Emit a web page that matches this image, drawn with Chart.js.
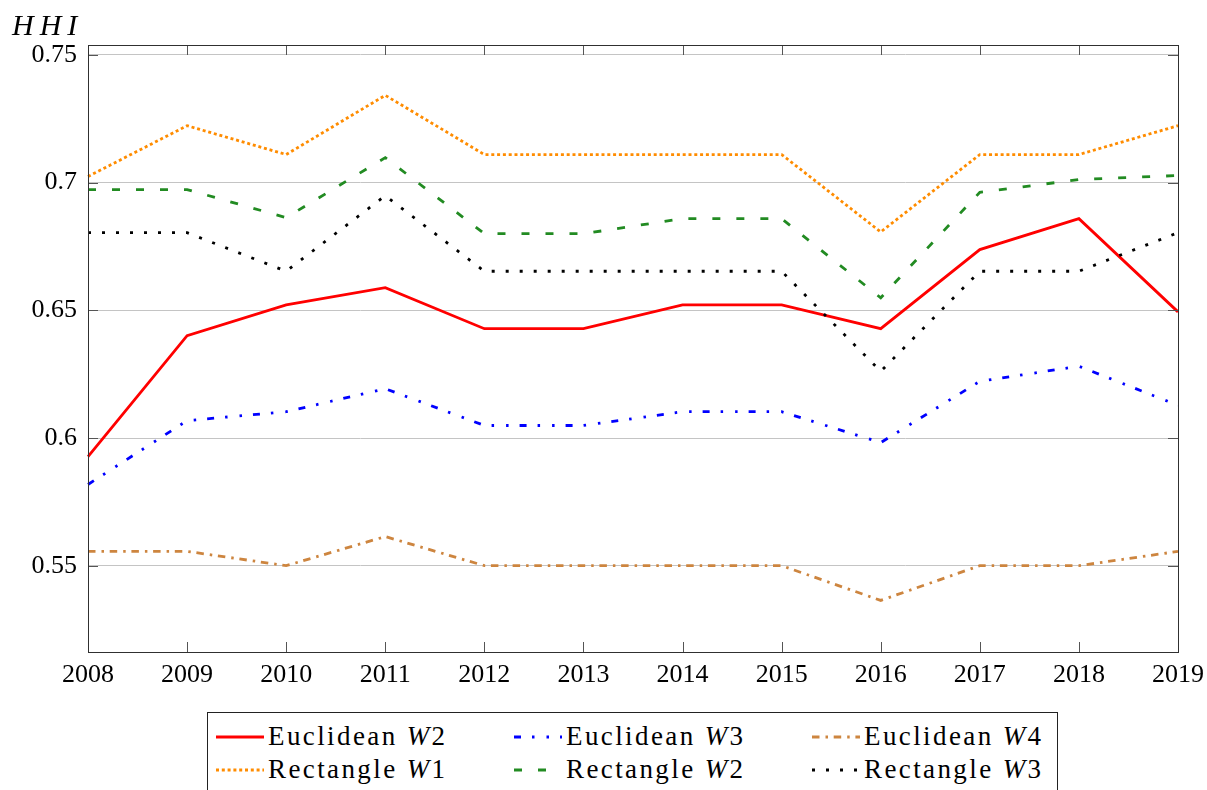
<!DOCTYPE html>
<html>
<head>
<meta charset="utf-8">
<script src="https://cdn.jsdelivr.net/npm/chart.js@4.4.0/dist/chart.umd.min.js"></script>
<style>
  html, body { margin: 0; padding: 0; background: #ffffff; }
  body { width: 1207px; height: 790px; position: relative; overflow: hidden; font-family: 'Liberation Serif', serif; color: #000; }
  #wrap { position: absolute; left: 0; top: 0; width: 1207px; height: 700px; }
  #ytitle { position: absolute; left: 12px; top: 10px; font-size: 30px; line-height: 30px; font-style: italic; letter-spacing: 6px; }
  #legendBox { position: absolute; left: 207px; top: 712px; width: 851px; height: 100px; border: 1px solid #222; box-sizing: border-box; }
  .lgText { position: absolute; font-size: 27px; line-height: 27px; letter-spacing: 2.4px; white-space: nowrap; }
  .lgSample { position: absolute; }
</style>
</head>
<body>
<div id="wrap"><canvas id="c" width="1207" height="700"></canvas></div>
<div id="ytitle">HHI</div>
<div id="legendBox"></div>
<div id="legendItems"></div>
<script>
const years = ['2008','2009','2010','2011','2012','2013','2014','2015','2016','2017','2018','2019'];

const euclideanW2 = [0.5927, 0.6401, 0.6521, 0.6589, 0.6428, 0.6428, 0.6521, 0.6521, 0.6428, 0.6738, 0.6859, 0.6494];
const euclideanW3 = [0.5818, 0.6068, 0.6103, 0.6193, 0.6049, 0.6049, 0.6103, 0.6103, 0.5982, 0.6222, 0.6281, 0.6128];
const euclideanW4 = [0.5556, 0.5556, 0.5500, 0.5614, 0.5500, 0.5500, 0.5500, 0.5500, 0.5364, 0.5500, 0.5500, 0.5556];
const rectangleW1 = [0.7024, 0.7223, 0.7110, 0.7342, 0.7110, 0.7110, 0.7110, 0.7110, 0.6807, 0.7110, 0.7110, 0.7223];
const rectangleW2 = [0.6973, 0.6973, 0.6863, 0.7098, 0.6800, 0.6800, 0.6859, 0.6859, 0.6549, 0.6962, 0.7012, 0.7028];
const rectangleW3 = [0.6804, 0.6804, 0.6653, 0.6949, 0.6653, 0.6653, 0.6653, 0.6653, 0.6261, 0.6653, 0.6653, 0.6804];

const seriesNames = ['Euclidean W2', 'Euclidean W3', 'Euclidean W4', 'Rectangle W1', 'Rectangle W2', 'Rectangle W3'];
const seriesValues = [euclideanW2, euclideanW3, euclideanW4, rectangleW1, rectangleW2, rectangleW3];

const yTickValues = [0.55, 0.6, 0.65, 0.7, 0.75];
const yTickLabels = ['0.55', '0.6', '0.65', '0.7', '0.75'];
const yTitle = 'HHI';

// styles (kept separate from data)
const seriesColors = ['#ff0000', '#0000ff', '#cd853f', '#ff8c00', '#228b22', '#000000'];
const seriesDashes = [[], [7, 11, 2.5, 12, 2.5, 11], [7.5, 6, 2.5, 5.7], [3, 2.8], [8, 16], [3, 11]];

document.getElementById('ytitle').textContent = yTitle;

const TICK_FONT = { family: "'Liberation Serif', serif", size: 26 };

const framePlugin = {
  id: 'frameTicks',
  afterDatasetsDraw(chart) {
    const ctx = chart.ctx;
    const { left, right, top, bottom } = chart.chartArea;
    const xs = chart.scales.x, ys = chart.scales.y;
    ctx.save();
    ctx.lineWidth = 1;
    ctx.strokeStyle = '#555555';
    ctx.beginPath();
    xs.ticks.forEach((t, i) => {
      const px = Math.round(xs.getPixelForTick(i)) + 0.5;
      ctx.moveTo(px, bottom); ctx.lineTo(px, bottom - 10);
      ctx.moveTo(px, top); ctx.lineTo(px, top + 10);
    });
    ys.ticks.forEach((t) => {
      const py = Math.round(ys.getPixelForValue(t.value)) + 0.5;
      ctx.moveTo(left, py); ctx.lineTo(left + 10, py);
      ctx.moveTo(right, py); ctx.lineTo(right - 10, py);
    });
    ctx.stroke();
    ctx.strokeStyle = '#303030';
    ctx.strokeRect(Math.round(left) + 0.5, Math.round(top) + 0.5, Math.round(right - left), Math.round(bottom - top));
    ctx.restore();
  }
};

const datasets = seriesNames.map((name, i) => ({
  label: name,
  data: seriesValues[i],
  borderColor: seriesColors[i],
  backgroundColor: seriesColors[i],
  borderDash: seriesDashes[i],
  borderWidth: 2.8,
  borderCapStyle: 'butt',
  borderJoinStyle: 'miter',
  pointRadius: 0,
  pointHoverRadius: 0,
  tension: 0,
  fill: false,
  order: seriesNames.length - i
}));

const chart = new Chart(document.getElementById('c'), {
  type: 'line',
  data: { labels: years, datasets: datasets },
  options: {
    responsive: false,
    devicePixelRatio: 1,
    animation: false,
    layout: { padding: { top: 45, right: 29, bottom: 0, left: 0 } },
    plugins: { legend: { display: false }, tooltip: { enabled: false }, title: { display: false } },
    scales: {
      x: {
        type: 'category',
        offset: false,
        grid: { display: false, drawTicks: false },
        border: { display: false },
        ticks: { font: TICK_FONT, color: '#000', padding: 8, maxRotation: 0, autoSkip: false },
        afterFit(s) { s.height = 48; s.paddingLeft = 0; s.paddingRight = 0; }
      },
      y: {
        min: 0.5162,
        max: 0.7539,
        grid: { color: '#c4c4c4', lineWidth: 1, drawTicks: false },
        border: { display: false },
        ticks: {
          font: TICK_FONT, color: '#000', padding: 11,
          callback: (v, idx) => yTickLabels[idx]
        },
        afterBuildTicks(s) { s.ticks = yTickValues.map(v => ({ value: v })); },
        afterFit(s) { s.width = 88; s.paddingTop = 0; s.paddingBottom = 0; }
      }
    }
  },
  plugins: [framePlugin]
});

// HTML legend built from chart datasets
(function buildLegend() {
  const host = document.getElementById('legendItems');
  const svgNS = 'http://www.w3.org/2000/svg';
  chart.data.datasets.forEach((ds, i) => {
    const col = i % 3, row = Math.floor(i / 3);
    const sx = 216 + col * 298;
    const cy = 737 + row * 33;
    const svg = document.createElementNS(svgNS, 'svg');
    svg.setAttribute('width', '48'); svg.setAttribute('height', '10');
    svg.setAttribute('class', 'lgSample');
    svg.style.left = sx + 'px'; svg.style.top = (cy - 5) + 'px';
    const ln = document.createElementNS(svgNS, 'line');
    ln.setAttribute('x1', '0'); ln.setAttribute('x2', '48');
    ln.setAttribute('y1', '5'); ln.setAttribute('y2', '5');
    ln.setAttribute('stroke', ds.borderColor);
    ln.setAttribute('stroke-width', '2.8');
    if (ds.borderDash.length) ln.setAttribute('stroke-dasharray', ds.borderDash.join(' '));
    svg.appendChild(ln);
    host.appendChild(svg);
    const t = document.createElement('div');
    t.className = 'lgText';
    t.style.left = (sx + 52) + 'px';
    t.style.top = (cy - 14) + 'px';
    const m = ds.label.match(/^(.*) W(\d)$/);
    t.innerHTML = m ? (m[1] + ' <i>W</i>' + m[2]) : ds.label;
    host.appendChild(t);
  });
})();
</script>
</body>
</html>
